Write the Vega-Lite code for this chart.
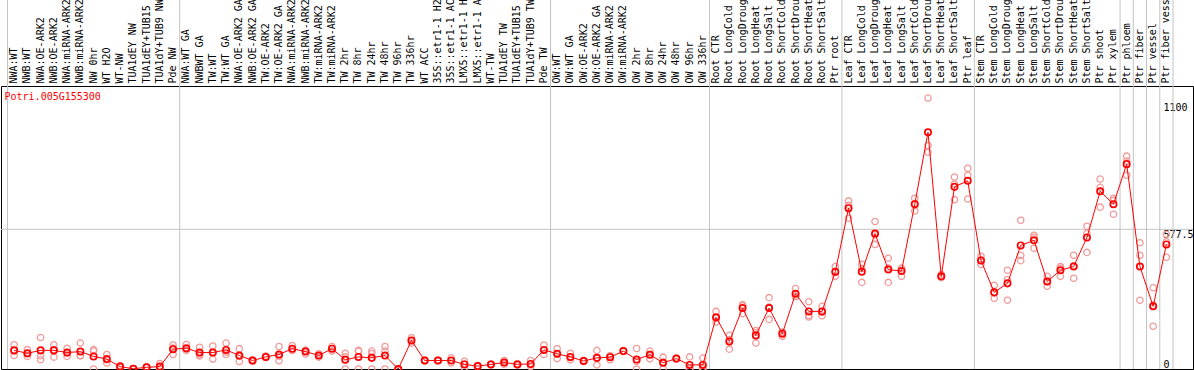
{
  "$schema": "https://vega.github.io/schema/vega-lite/v6.json",
  "width": 1192,
  "height": 283,
  "autosize": {"type": "none"},
  "padding": {"left": 1, "top": 86, "right": 1, "bottom": 1},
  "background": "white",
  "config": {
    "view": {"stroke": "black", "strokeWidth": 1},
    "font": "DejaVu Sans Mono"
  },
  "datasets": {
    "samples": [
      {"sample": "NWA:WT", "group": "NW", "mean": 77},
      {"sample": "NWB:WT", "group": "NW", "mean": 65},
      {"sample": "NWA:OE-ARK2", "group": "NW", "mean": 77},
      {"sample": "NWB:OE-ARK2", "group": "NW", "mean": 77},
      {"sample": "NWA:miRNA-ARK2", "group": "NW", "mean": 68},
      {"sample": "NWB:miRNA-ARK2", "group": "NW", "mean": 72},
      {"sample": "NW 0hr", "group": "NW", "mean": 52},
      {"sample": "WT H2O", "group": "NW", "mean": 41},
      {"sample": "WT-NW", "group": "NW", "mean": 10},
      {"sample": "TUA1dEY NW", "group": "NW", "mean": 1},
      {"sample": "TUA1dEY+TUB15 NW", "group": "NW", "mean": 7},
      {"sample": "TUA1dY+TUB9 NW", "group": "NW", "mean": 10},
      {"sample": "Pde NW", "group": "NW", "mean": 82},
      {"sample": "NWA:WT GA", "group": "TW", "mean": 86},
      {"sample": "NWBWT GA", "group": "TW", "mean": 68},
      {"sample": "TW:WT", "group": "TW", "mean": 68},
      {"sample": "TW:WT GA", "group": "TW", "mean": 79},
      {"sample": "NWA:OE-ARK2 GA", "group": "TW", "mean": 56},
      {"sample": "NWB:OE-ARK2 GA", "group": "TW", "mean": 35},
      {"sample": "TW:OE-ARK2", "group": "TW", "mean": 50},
      {"sample": "TW:OE-ARK2 GA", "group": "TW", "mean": 60},
      {"sample": "NWA:miRNA-ARK2 GA", "group": "TW", "mean": 84},
      {"sample": "NWB:miRNA-ARK2 GA", "group": "TW", "mean": 72},
      {"sample": "TW:miRNA-ARK2", "group": "TW", "mean": 56},
      {"sample": "TW:miRNA-ARK2 GA", "group": "TW", "mean": 84},
      {"sample": "TW 2hr", "group": "TW", "mean": 38},
      {"sample": "TW 8hr", "group": "TW", "mean": 50},
      {"sample": "TW 24hr", "group": "TW", "mean": 46},
      {"sample": "TW 48hr", "group": "TW", "mean": 56},
      {"sample": "TW 96hr", "group": "TW", "mean": 0},
      {"sample": "TW 336hr", "group": "TW", "mean": 118},
      {"sample": "WT ACC", "group": "TW", "mean": 35},
      {"sample": "35S::etr1-1 H2O", "group": "TW", "mean": 35},
      {"sample": "35S::etr1-1 ACC", "group": "TW", "mean": 35},
      {"sample": "LMX5::etr1-1 H2O", "group": "TW", "mean": 19},
      {"sample": "LMX5::etr1-1 ACC", "group": "TW", "mean": 12},
      {"sample": "WT-TW", "group": "TW", "mean": 19},
      {"sample": "TUA1dEY TW", "group": "TW", "mean": 27},
      {"sample": "TUA1dEY+TUB15 TW", "group": "TW", "mean": 19},
      {"sample": "TUA1dY+TUB9 TW", "group": "TW", "mean": 21},
      {"sample": "Pde TW", "group": "TW", "mean": 79},
      {"sample": "OW:WT", "group": "OW", "mean": 63},
      {"sample": "OW:WT GA", "group": "OW", "mean": 50},
      {"sample": "OW:OE-ARK2", "group": "OW", "mean": 33},
      {"sample": "OW:OE-ARK2 GA", "group": "OW", "mean": 46},
      {"sample": "OW:miRNA-ARK2", "group": "OW", "mean": 49},
      {"sample": "OW:miRNA-ARK2 GA", "group": "OW", "mean": 74},
      {"sample": "OW 2hr", "group": "OW", "mean": 39},
      {"sample": "OW 8hr", "group": "OW", "mean": 59},
      {"sample": "OW 24hr", "group": "OW", "mean": 26},
      {"sample": "OW 48hr", "group": "OW", "mean": 43},
      {"sample": "OW 96hr", "group": "OW", "mean": 17},
      {"sample": "OW 336hr", "group": "OW", "mean": 17},
      {"sample": "Root CTR", "group": "Root", "mean": 214},
      {"sample": "Root LongCold", "group": "Root", "mean": 114},
      {"sample": "Root LongDrought", "group": "Root", "mean": 252},
      {"sample": "Root LongHeat", "group": "Root", "mean": 139},
      {"sample": "Root LongSalt", "group": "Root", "mean": 252},
      {"sample": "Root ShortCold", "group": "Root", "mean": 146},
      {"sample": "Root ShortDrought", "group": "Root", "mean": 311},
      {"sample": "Root ShortHeat", "group": "Root", "mean": 238},
      {"sample": "Root ShortSalt", "group": "Root", "mean": 238},
      {"sample": "Ptr root", "group": "Root", "mean": 402},
      {"sample": "Leaf CTR", "group": "Leaf", "mean": 665},
      {"sample": "Leaf LongCold", "group": "Leaf", "mean": 402},
      {"sample": "Leaf LongDrought", "group": "Leaf", "mean": 560},
      {"sample": "Leaf LongHeat", "group": "Leaf", "mean": 411},
      {"sample": "Leaf LongSalt", "group": "Leaf", "mean": 405},
      {"sample": "Leaf ShortCold", "group": "Leaf", "mean": 681},
      {"sample": "Leaf ShortDrought", "group": "Leaf", "mean": 979},
      {"sample": "Leaf ShortHeat", "group": "Leaf", "mean": 383},
      {"sample": "Leaf ShortSalt", "group": "Leaf", "mean": 753},
      {"sample": "Ptr leaf", "group": "Leaf", "mean": 778},
      {"sample": "Stem CTR", "group": "Stem", "mean": 449},
      {"sample": "Stem LongCold", "group": "Stem", "mean": 317},
      {"sample": "Stem LongDrought", "group": "Stem", "mean": 354},
      {"sample": "Stem LongHeat", "group": "Stem", "mean": 511},
      {"sample": "Stem LongSalt", "group": "Stem", "mean": 532},
      {"sample": "Stem ShortCold", "group": "Stem", "mean": 362},
      {"sample": "Stem ShortDrought", "group": "Stem", "mean": 408},
      {"sample": "Stem ShortHeat", "group": "Stem", "mean": 424},
      {"sample": "Stem ShortSalt", "group": "Stem", "mean": 544},
      {"sample": "Ptr shoot", "group": "Stem", "mean": 735},
      {"sample": "Ptr xylem", "group": "Stem", "mean": 681},
      {"sample": "Ptr phloem", "group": "Phloem", "mean": 847},
      {"sample": "Ptr fiber", "group": "Fiber", "mean": 424},
      {"sample": "Ptr vessel", "group": "Vessel", "mean": 259},
      {"sample": "Ptr fiber vessel", "group": "FiberVessel", "mean": 515}
    ],
    "reps": [
      {"sample": "NWA:WT", "value": 100}, {"sample": "NWA:WT", "value": 56}, {"sample": "NWA:WT", "value": 75},
      {"sample": "NWB:WT", "value": 80}, {"sample": "NWB:WT", "value": 52}, {"sample": "NWB:WT", "value": 63},
      {"sample": "NWA:OE-ARK2", "value": 130}, {"sample": "NWA:OE-ARK2", "value": 55}, {"sample": "NWA:OE-ARK2", "value": 38},
      {"sample": "NWB:OE-ARK2", "value": 100}, {"sample": "NWB:OE-ARK2", "value": 49}, {"sample": "NWB:OE-ARK2", "value": 80},
      {"sample": "NWA:miRNA-ARK2", "value": 86}, {"sample": "NWA:miRNA-ARK2", "value": 52}, {"sample": "NWA:miRNA-ARK2", "value": 66},
      {"sample": "NWB:miRNA-ARK2", "value": 107}, {"sample": "NWB:miRNA-ARK2", "value": 55}, {"sample": "NWB:miRNA-ARK2", "value": 55},
      {"sample": "NW 0hr", "value": 80}, {"sample": "NW 0hr", "value": 74}, {"sample": "NW 0hr", "value": 0},
      {"sample": "WT H2O", "value": 60}, {"sample": "WT H2O", "value": 38}, {"sample": "WT H2O", "value": 25},
      {"sample": "WT-NW", "value": 14}, {"sample": "WT-NW", "value": 8}, {"sample": "WT-NW", "value": 8},
      {"sample": "TUA1dEY NW", "value": 2}, {"sample": "TUA1dEY NW", "value": 0}, {"sample": "TUA1dEY NW", "value": 1},
      {"sample": "TUA1dEY+TUB15 NW", "value": 8}, {"sample": "TUA1dEY+TUB15 NW", "value": 6}, {"sample": "TUA1dEY+TUB15 NW", "value": 7},
      {"sample": "TUA1dY+TUB9 NW", "value": 22}, {"sample": "TUA1dY+TUB9 NW", "value": 5}, {"sample": "TUA1dY+TUB9 NW", "value": 3},
      {"sample": "Pde NW", "value": 99}, {"sample": "Pde NW", "value": 60}, {"sample": "Pde NW", "value": 87},
      {"sample": "NWA:WT GA", "value": 101}, {"sample": "NWA:WT GA", "value": 77}, {"sample": "NWA:WT GA", "value": 80},
      {"sample": "NWBWT GA", "value": 90}, {"sample": "NWBWT GA", "value": 60}, {"sample": "NWBWT GA", "value": 54},
      {"sample": "TW:WT", "value": 95}, {"sample": "TW:WT", "value": 41}, {"sample": "TW:WT", "value": 68},
      {"sample": "TW:WT GA", "value": 107}, {"sample": "TW:WT GA", "value": 60}, {"sample": "TW:WT GA", "value": 70},
      {"sample": "NWA:OE-ARK2 GA", "value": 84}, {"sample": "NWA:OE-ARK2 GA", "value": 31}, {"sample": "NWA:OE-ARK2 GA", "value": 53},
      {"sample": "NWB:OE-ARK2 GA", "value": 38}, {"sample": "NWB:OE-ARK2 GA", "value": 35}, {"sample": "NWB:OE-ARK2 GA", "value": 32},
      {"sample": "TW:OE-ARK2", "value": 53}, {"sample": "TW:OE-ARK2", "value": 47}, {"sample": "TW:OE-ARK2", "value": 50},
      {"sample": "TW:OE-ARK2 GA", "value": 93}, {"sample": "TW:OE-ARK2 GA", "value": 34}, {"sample": "TW:OE-ARK2 GA", "value": 53},
      {"sample": "NWA:miRNA-ARK2 GA", "value": 97}, {"sample": "NWA:miRNA-ARK2 GA", "value": 78}, {"sample": "NWA:miRNA-ARK2 GA", "value": 77},
      {"sample": "NWB:miRNA-ARK2 GA", "value": 77}, {"sample": "NWB:miRNA-ARK2 GA", "value": 62}, {"sample": "NWB:miRNA-ARK2 GA", "value": 77},
      {"sample": "TW:miRNA-ARK2", "value": 63}, {"sample": "TW:miRNA-ARK2", "value": 49}, {"sample": "TW:miRNA-ARK2", "value": 56},
      {"sample": "TW:miRNA-ARK2 GA", "value": 93}, {"sample": "TW:miRNA-ARK2 GA", "value": 74}, {"sample": "TW:miRNA-ARK2 GA", "value": 85},
      {"sample": "TW 2hr", "value": 65}, {"sample": "TW 2hr", "value": 50}, {"sample": "TW 2hr", "value": 0},
      {"sample": "TW 8hr", "value": 77}, {"sample": "TW 8hr", "value": 73}, {"sample": "TW 8hr", "value": 0},
      {"sample": "TW 24hr", "value": 74}, {"sample": "TW 24hr", "value": 64}, {"sample": "TW 24hr", "value": 0},
      {"sample": "TW 48hr", "value": 93}, {"sample": "TW 48hr", "value": 74}, {"sample": "TW 48hr", "value": 0},
      {"sample": "TW 96hr", "value": 0}, {"sample": "TW 96hr", "value": 0}, {"sample": "TW 96hr", "value": 0},
      {"sample": "TW 336hr", "value": 129}, {"sample": "TW 336hr", "value": 107}, {"sample": "TW 336hr", "value": 118},
      {"sample": "WT ACC", "value": 35}, {"sample": "WT ACC", "value": 37}, {"sample": "WT ACC", "value": 33},
      {"sample": "35S::etr1-1 H2O", "value": 36}, {"sample": "35S::etr1-1 H2O", "value": 35}, {"sample": "35S::etr1-1 H2O", "value": 34},
      {"sample": "35S::etr1-1 ACC", "value": 46}, {"sample": "35S::etr1-1 ACC", "value": 35}, {"sample": "35S::etr1-1 ACC", "value": 25},
      {"sample": "LMX5::etr1-1 H2O", "value": 32}, {"sample": "LMX5::etr1-1 H2O", "value": 5}, {"sample": "LMX5::etr1-1 H2O", "value": 20},
      {"sample": "LMX5::etr1-1 ACC", "value": 14}, {"sample": "LMX5::etr1-1 ACC", "value": 12}, {"sample": "LMX5::etr1-1 ACC", "value": 10},
      {"sample": "WT-TW", "value": 21}, {"sample": "WT-TW", "value": 18}, {"sample": "WT-TW", "value": 18},
      {"sample": "TUA1dEY TW", "value": 35}, {"sample": "TUA1dEY TW", "value": 19}, {"sample": "TUA1dEY TW", "value": 27},
      {"sample": "TUA1dEY+TUB15 TW", "value": 22}, {"sample": "TUA1dEY+TUB15 TW", "value": 17}, {"sample": "TUA1dEY+TUB15 TW", "value": 18},
      {"sample": "TUA1dY+TUB9 TW", "value": 35}, {"sample": "TUA1dY+TUB9 TW", "value": 10}, {"sample": "TUA1dY+TUB9 TW", "value": 18},
      {"sample": "Pde TW", "value": 99}, {"sample": "Pde TW", "value": 60}, {"sample": "Pde TW", "value": 78},
      {"sample": "OW:WT", "value": 84}, {"sample": "OW:WT", "value": 43}, {"sample": "OW:WT", "value": 62},
      {"sample": "OW:WT GA", "value": 65}, {"sample": "OW:WT GA", "value": 38}, {"sample": "OW:WT GA", "value": 47},
      {"sample": "OW:OE-ARK2", "value": 36}, {"sample": "OW:OE-ARK2", "value": 31}, {"sample": "OW:OE-ARK2", "value": 32},
      {"sample": "OW:OE-ARK2 GA", "value": 77}, {"sample": "OW:OE-ARK2 GA", "value": 17}, {"sample": "OW:OE-ARK2 GA", "value": 44},
      {"sample": "OW:miRNA-ARK2", "value": 38}, {"sample": "OW:miRNA-ARK2", "value": 55}, {"sample": "OW:miRNA-ARK2", "value": 54},
      {"sample": "OW:miRNA-ARK2 GA", "value": 76}, {"sample": "OW:miRNA-ARK2 GA", "value": 72}, {"sample": "OW:miRNA-ARK2 GA", "value": 74},
      {"sample": "OW 2hr", "value": 85}, {"sample": "OW 2hr", "value": 0}, {"sample": "OW 2hr", "value": 32},
      {"sample": "OW 8hr", "value": 74}, {"sample": "OW 8hr", "value": 42}, {"sample": "OW 8hr", "value": 61},
      {"sample": "OW 24hr", "value": 49}, {"sample": "OW 24hr", "value": 0}, {"sample": "OW 24hr", "value": 29},
      {"sample": "OW 48hr", "value": 45}, {"sample": "OW 48hr", "value": 41}, {"sample": "OW 48hr", "value": 43},
      {"sample": "OW 96hr", "value": 50}, {"sample": "OW 96hr", "value": 0}, {"sample": "OW 96hr", "value": 1},
      {"sample": "OW 336hr", "value": 45}, {"sample": "OW 336hr", "value": 0}, {"sample": "OW 336hr", "value": 6},
      {"sample": "Root CTR", "value": 238}, {"sample": "Root CTR", "value": 210}, {"sample": "Root CTR", "value": 194},
      {"sample": "Root LongCold", "value": 139}, {"sample": "Root LongCold", "value": 82}, {"sample": "Root LongCold", "value": 121},
      {"sample": "Root LongDrought", "value": 266}, {"sample": "Root LongDrought", "value": 229}, {"sample": "Root LongDrought", "value": 261},
      {"sample": "Root LongHeat", "value": 159}, {"sample": "Root LongHeat", "value": 107}, {"sample": "Root LongHeat", "value": 151},
      {"sample": "Root LongSalt", "value": 295}, {"sample": "Root LongSalt", "value": 205}, {"sample": "Root LongSalt", "value": 256},
      {"sample": "Root ShortCold", "value": 135}, {"sample": "Root ShortCold", "value": 150}, {"sample": "Root ShortCold", "value": 153},
      {"sample": "Root ShortDrought", "value": 333}, {"sample": "Root ShortDrought", "value": 300}, {"sample": "Root ShortDrought", "value": 300},
      {"sample": "Root ShortHeat", "value": 278}, {"sample": "Root ShortHeat", "value": 215}, {"sample": "Root ShortHeat", "value": 221},
      {"sample": "Root ShortSalt", "value": 259}, {"sample": "Root ShortSalt", "value": 220}, {"sample": "Root ShortSalt", "value": 235},
      {"sample": "Ptr root", "value": 424}, {"sample": "Ptr root", "value": 383}, {"sample": "Ptr root", "value": 399},
      {"sample": "Leaf CTR", "value": 695}, {"sample": "Leaf CTR", "value": 623}, {"sample": "Leaf CTR", "value": 677},
      {"sample": "Leaf LongCold", "value": 433}, {"sample": "Leaf LongCold", "value": 358}, {"sample": "Leaf LongCold", "value": 415},
      {"sample": "Leaf LongDrought", "value": 610}, {"sample": "Leaf LongDrought", "value": 515}, {"sample": "Leaf LongDrought", "value": 555},
      {"sample": "Leaf LongHeat", "value": 458}, {"sample": "Leaf LongHeat", "value": 358}, {"sample": "Leaf LongHeat", "value": 417},
      {"sample": "Leaf LongSalt", "value": 417}, {"sample": "Leaf LongSalt", "value": 383}, {"sample": "Leaf LongSalt", "value": 415},
      {"sample": "Leaf ShortCold", "value": 706}, {"sample": "Leaf ShortCold", "value": 653}, {"sample": "Leaf ShortCold", "value": 684},
      {"sample": "Leaf ShortDrought", "value": 1120}, {"sample": "Leaf ShortDrought", "value": 924}, {"sample": "Leaf ShortDrought", "value": 896},
      {"sample": "Leaf ShortHeat", "value": 391}, {"sample": "Leaf ShortHeat", "value": 378}, {"sample": "Leaf ShortHeat", "value": 380},
      {"sample": "Leaf ShortSalt", "value": 794}, {"sample": "Leaf ShortSalt", "value": 700}, {"sample": "Leaf ShortSalt", "value": 765},
      {"sample": "Ptr leaf", "value": 830}, {"sample": "Ptr leaf", "value": 703}, {"sample": "Ptr leaf", "value": 801},
      {"sample": "Stem CTR", "value": 466}, {"sample": "Stem CTR", "value": 432}, {"sample": "Stem CTR", "value": 449},
      {"sample": "Stem LongCold", "value": 346}, {"sample": "Stem LongCold", "value": 292}, {"sample": "Stem LongCold", "value": 313},
      {"sample": "Stem LongDrought", "value": 408}, {"sample": "Stem LongDrought", "value": 284}, {"sample": "Stem LongDrought", "value": 370},
      {"sample": "Stem LongHeat", "value": 615}, {"sample": "Stem LongHeat", "value": 470}, {"sample": "Stem LongHeat", "value": 448},
      {"sample": "Stem LongSalt", "value": 553}, {"sample": "Stem LongSalt", "value": 499}, {"sample": "Stem LongSalt", "value": 544},
      {"sample": "Stem ShortCold", "value": 383}, {"sample": "Stem ShortCold", "value": 342}, {"sample": "Stem ShortCold", "value": 361},
      {"sample": "Stem ShortDrought", "value": 424}, {"sample": "Stem ShortDrought", "value": 383}, {"sample": "Stem ShortDrought", "value": 417},
      {"sample": "Stem ShortHeat", "value": 470}, {"sample": "Stem ShortHeat", "value": 375}, {"sample": "Stem ShortHeat", "value": 427},
      {"sample": "Stem ShortSalt", "value": 590}, {"sample": "Stem ShortSalt", "value": 482}, {"sample": "Stem ShortSalt", "value": 560},
      {"sample": "Ptr shoot", "value": 785}, {"sample": "Ptr shoot", "value": 669}, {"sample": "Ptr shoot", "value": 751},
      {"sample": "Ptr xylem", "value": 706}, {"sample": "Ptr xylem", "value": 640}, {"sample": "Ptr xylem", "value": 697},
      {"sample": "Ptr phloem", "value": 880}, {"sample": "Ptr phloem", "value": 801}, {"sample": "Ptr phloem", "value": 860},
      {"sample": "Ptr fiber", "value": 522}, {"sample": "Ptr fiber", "value": 470}, {"sample": "Ptr fiber", "value": 284},
      {"sample": "Ptr vessel", "value": 336}, {"sample": "Ptr vessel", "value": 177}, {"sample": "Ptr vessel", "value": 264},
      {"sample": "Ptr fiber vessel", "value": 557}, {"sample": "Ptr fiber vessel", "value": 462}, {"sample": "Ptr fiber vessel", "value": 526}
    ]
  },
  "layer": [
    {
      "data": {"name": "samples"},
      "transform": [
        {"window": [{"op": "row_number", "as": "r"}], "groupby": ["group"]},
        {"filter": "datum.r === 1"}
      ],
      "mark": {"type": "rule", "color": "#c4c4c4", "strokeWidth": 1},
      "encoding": {
        "x": {
          "field": "sample", "type": "nominal", "bandPosition": 0, "title": null,
          "scale": {
            "type": "band", "paddingInner": 0, "paddingOuter": 1.846, "align": 0.246,
            "domain": ["NWA:WT", "NWB:WT", "NWA:OE-ARK2", "NWB:OE-ARK2", "NWA:miRNA-ARK2", "NWB:miRNA-ARK2", "NW 0hr", "WT H2O", "WT-NW", "TUA1dEY NW", "TUA1dEY+TUB15 NW", "TUA1dY+TUB9 NW", "Pde NW", "NWA:WT GA", "NWBWT GA", "TW:WT", "TW:WT GA", "NWA:OE-ARK2 GA", "NWB:OE-ARK2 GA", "TW:OE-ARK2", "TW:OE-ARK2 GA", "NWA:miRNA-ARK2 GA", "NWB:miRNA-ARK2 GA", "TW:miRNA-ARK2", "TW:miRNA-ARK2 GA", "TW 2hr", "TW 8hr", "TW 24hr", "TW 48hr", "TW 96hr", "TW 336hr", "WT ACC", "35S::etr1-1 H2O", "35S::etr1-1 ACC", "LMX5::etr1-1 H2O", "LMX5::etr1-1 ACC", "WT-TW", "TUA1dEY TW", "TUA1dEY+TUB15 TW", "TUA1dY+TUB9 TW", "Pde TW", "OW:WT", "OW:WT GA", "OW:OE-ARK2", "OW:OE-ARK2 GA", "OW:miRNA-ARK2", "OW:miRNA-ARK2 GA", "OW 2hr", "OW 8hr", "OW 24hr", "OW 48hr", "OW 96hr", "OW 336hr", "Root CTR", "Root LongCold", "Root LongDrought", "Root LongHeat", "Root LongSalt", "Root ShortCold", "Root ShortDrought", "Root ShortHeat", "Root ShortSalt", "Ptr root", "Leaf CTR", "Leaf LongCold", "Leaf LongDrought", "Leaf LongHeat", "Leaf LongSalt", "Leaf ShortCold", "Leaf ShortDrought", "Leaf ShortHeat", "Leaf ShortSalt", "Ptr leaf", "Stem CTR", "Stem LongCold", "Stem LongDrought", "Stem LongHeat", "Stem LongSalt", "Stem ShortCold", "Stem ShortDrought", "Stem ShortHeat", "Stem ShortSalt", "Ptr shoot", "Ptr xylem", "Ptr phloem", "Ptr fiber", "Ptr vessel", "Ptr fiber vessel"]
          },
          "axis": {
            "orient": "top", "labelAngle": -90, "domain": false, "ticks": false, "grid": false,
            "labelPadding": 3, "labelFont": "DejaVu Sans Mono", "labelFontSize": 10, "labelColor": "black",
            "labelOverlap": false, "labelLimit": 0, "labelBound": false, "title": null
          }
        },
        "y": {
          "datum": 0, "type": "quantitative", "title": null,
          "scale": {"domain": [0, 1170], "nice": false, "zero": true},
          "axis": {
            "orient": "right", "values": [0, 577.5, 1100], "domain": false, "ticks": false, "tickSize": 0,
            "grid": false, "offset": -30, "labelPadding": 0, "labelAlign": "left",
            "labelExpr": "'' + datum.value",
            "labelBaseline": {"condition": {"test": "datum.value === 0", "value": "bottom"}, "value": "top"},
            "labelFont": "DejaVu Sans Mono", "labelFontSize": 10, "labelColor": "black", "labelFlush": false,
            "labelOverlap": false, "title": null
          }
        },
        "y2": {"datum": 1530}
      }
    },
    {
      "data": {"name": "samples"},
      "transform": [{"filter": "datum.sample === 'Ptr fiber vessel'"}],
      "mark": {"type": "rule", "color": "#c4c4c4", "strokeWidth": 1},
      "encoding": {
        "x": {"field": "sample", "type": "nominal", "bandPosition": 1, "title": null},
        "y": {"datum": 0, "type": "quantitative", "title": null},
        "y2": {"datum": 1530}
      }
    },
    {
      "data": {"values": [{"ref": 577.5}]},
      "mark": {"type": "rule", "color": "#c4c4c4", "strokeWidth": 1},
      "encoding": {
        "y": {"field": "ref", "type": "quantitative", "title": null}
      }
    },
    {
      "data": {"values": [{"gene": "Potri.005G155300"}]},
      "mark": {"type": "text", "align": "left", "baseline": "alphabetic", "color": "red", "font": "DejaVu Sans Mono", "fontSize": 10, "dx": -3},
      "encoding": {
        "text": {"field": "gene", "type": "nominal"},
        "x": {"datum": "NWA:WT", "type": "nominal", "bandPosition": 0, "title": null},
        "y": {"datum": 1112, "type": "quantitative", "title": null}
      }
    },
    {
      "data": {"name": "reps"},
      "mark": {"type": "point", "shape": "circle", "filled": false, "color": "#f09a9a", "size": 40, "strokeWidth": 1.3, "opacity": 1},
      "encoding": {
        "x": {"field": "sample", "type": "nominal", "title": null},
        "y": {"field": "value", "type": "quantitative", "title": null}
      }
    },
    {
      "data": {"name": "samples"},
      "mark": {"type": "line", "color": "#ff0000", "strokeWidth": 1},
      "encoding": {
        "x": {"field": "sample", "type": "nominal", "title": null},
        "y": {"field": "mean", "type": "quantitative", "title": null}
      }
    },
    {
      "data": {"name": "samples"},
      "mark": {"type": "point", "shape": "circle", "filled": false, "color": "#ff0000", "size": 40, "strokeWidth": 1.7, "opacity": 1},
      "encoding": {
        "x": {"field": "sample", "type": "nominal", "title": null},
        "y": {"field": "mean", "type": "quantitative", "title": null}
      }
    }
  ]
}
